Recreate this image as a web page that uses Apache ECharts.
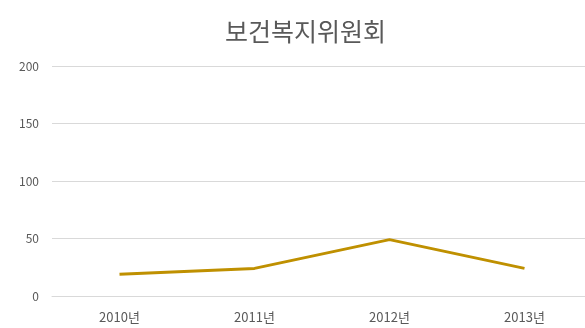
<!DOCTYPE html>
<html>
<head>
<meta charset="utf-8">
<script src="https://cdn.jsdelivr.net/npm/echarts@6/dist/echarts.min.js"></script>
<style>
  html, body { margin: 0; padding: 0; background: #fff; }
  #main { width: 585px; height: 328px; }
</style>
</head>
<body>
<div id="main"></div>
<script>
// 보건복지위원회 연도별 추이
var years = ['2010년', '2011년', '2012년', '2013년'];
var counts = [19, 24, 49, 24];
var yTicks = [0, 50, 100, 150, 200];

var chart = echarts.init(document.getElementById('main'));
var option = {
  animation: false,
  title: {
    text: '보건복지위원회',
    left: 225,
    top: 19,
    padding: 0,
    textStyle: {
      color: '#595959',
      fontSize: 25,
      fontWeight: 'normal',
      fontFamily: 'Noto Sans CJK KR'
    }
  },
  grid: {
    left: 52,
    right: -7,
    top: 66,
    bottom: 32,
    outerBoundsMode: 'none'
  },
  xAxis: {
    type: 'category',
    data: years,
    axisTick: { show: false },
    axisLine: { lineStyle: { color: '#d9d9d9' } },
    axisLabel: {
      color: '#595959',
      fontSize: 13,
      margin: 15,
      fontFamily: 'Noto Sans CJK KR'
    }
  },
  yAxis: {
    type: 'value',
    min: yTicks[0],
    max: yTicks[yTicks.length - 1],
    interval: 50,
    axisLine: { show: false },
    axisTick: { show: false },
    axisLabel: {
      color: '#595959',
      fontSize: 12,
      margin: 13,
      fontFamily: 'Noto Sans CJK KR'
    },
    splitLine: { lineStyle: { color: '#d9d9d9' } }
  },
  series: [{
    type: 'line',
    data: counts,
    symbol: 'none',
    lineStyle: { color: '#bf9000', width: 3 }
  }]
};
chart.setOption(option);
</script>
</body>
</html>
